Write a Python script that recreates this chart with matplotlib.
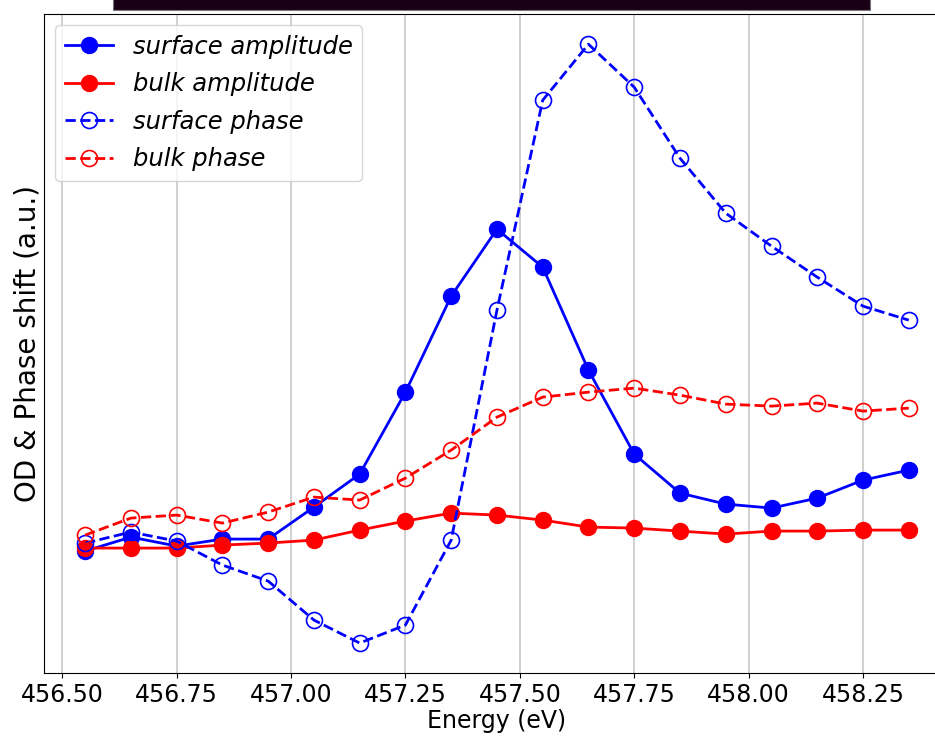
import matplotlib
matplotlib.use("Agg")
import matplotlib.pyplot as plt
from matplotlib.patches import Rectangle

# photon energies (eV)
energy = [456.55, 456.65, 456.75, 456.85, 456.95, 457.05, 457.15, 457.25, 457.35, 457.45,
          457.55, 457.65, 457.75, 457.85, 457.95, 458.05, 458.15, 458.25, 458.35]

surface_amp = [-0.015, 0.055, 0.01, 0.045, 0.045, 0.205, 0.37, 0.78, 1.26, 1.595,
               1.405, 0.89, 0.47, 0.275, 0.22, 0.20, 0.25, 0.34, 0.39]
bulk_amp = [0.0, 0.0, 0.0, 0.015, 0.025, 0.04, 0.09, 0.135, 0.175, 0.165,
            0.14, 0.105, 0.10, 0.085, 0.07, 0.085, 0.085, 0.09, 0.09]
surface_phase = [0.025, 0.08, 0.035, -0.085, -0.165, -0.36, -0.475, -0.385, 0.04, 1.19,
                 2.24, 2.52, 2.305, 1.95, 1.675, 1.51, 1.355, 1.21, 1.14]
bulk_phase = [0.065, 0.15, 0.165, 0.125, 0.18, 0.255, 0.24, 0.35, 0.49, 0.655,
              0.755, 0.78, 0.80, 0.765, 0.72, 0.71, 0.725, 0.685, 0.70]

fig = plt.figure(figsize=(9.35, 7.36), dpi=100)
ax = fig.add_axes([0.047, 0.0856, 0.969, 0.895])

# strip left over from the panel above
fig.patches.append(Rectangle((0.121, 0.986), 0.809, 0.02, transform=fig.transFigure,
                             facecolor="#1a0014", edgecolor="#777777", lw=0.8, zorder=5))

ax.plot(energy, surface_amp, "-o", color="blue", lw=2, ms=11.5, label="surface amplitude")
ax.plot(energy, bulk_amp, "-o", color="red", lw=2, ms=11.5, label="bulk amplitude")
ax.plot(energy, surface_phase, "--o", color="blue", lw=2, ms=11.5, mfc="none", mew=1.2,
        label="surface phase")
ax.plot(energy, bulk_phase, "--o", color="red", lw=2, ms=11.5, mfc="none", mew=1.2,
        label="bulk phase")

ax.spines["right"].set_visible(False)
ax.grid(axis="x", color="#c8c8c8", lw=1.2)
ax.set_yticks([])
ax.tick_params(axis="x", labelsize=17)
ax.set_xlabel("Energy (eV)", fontsize=17, labelpad=2)
ax.set_ylabel("OD & Phase shift (a.u.)", fontsize=20, labelpad=2)

ax.legend(loc="upper left", prop={"size": 17.5, "style": "italic"},
          borderaxespad=0.45, labelspacing=0.55)

fig.savefig("out.png", dpi=100)
